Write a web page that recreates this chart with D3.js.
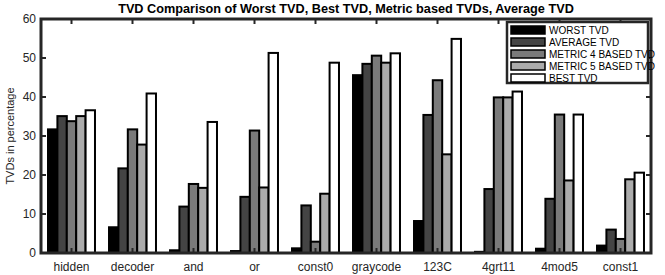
<!DOCTYPE html>
<html>
<head>
<meta charset="utf-8">
<script src="https://cdn.jsdelivr.net/npm/d3@7"></script>
<style>
  body { margin: 0; background: #fff; }
  svg { font-family: "Liberation Sans", Arial, sans-serif; display: block; }
</style>
</head>
<body>
<svg></svg>
<script>
// circuits on the x axis
const circuits = ["hidden", "decoder", "and", "or", "const0", "graycode", "123C", "4grt11", "4mod5", "const1"];

// series (TVD in %)
const seriesNames = ["WORST TVD", "AVERAGE TVD", "METRIC 4 BASED TVD", "METRIC 5 BASED TVD", "BEST TVD"];
const worstTVD   = [31.7, 6.6, 0.7, 0.5, 1.2, 45.6, 8.2, 0.3, 1.1, 1.9];
const averageTVD = [35.1, 21.7, 11.9, 14.4, 12.2, 48.5, 35.4, 16.4, 13.9, 6.0];
const metric4TVD = [33.8, 31.7, 17.7, 31.4, 2.9, 50.6, 44.3, 39.9, 35.5, 3.6];
const metric5TVD = [35.1, 27.8, 16.7, 16.8, 15.2, 48.8, 25.3, 39.9, 18.6, 18.9];
const bestTVD    = [36.6, 40.9, 33.6, 51.3, 48.8, 51.2, 54.9, 41.4, 35.5, 20.6];
const yTicks = [0, 10, 20, 30, 40, 50, 60];

const series = [worstTVD, averageTVD, metric4TVD, metric5TVD, bestTVD];
const colors = ["#000000", "#444444", "#7a7a7a", "#ababab", "#ffffff"];

const W = 665, H = 275;
const plotL = 41, plotR = 651, plotT = 19, plotB = 253;

const svg = d3.select('svg')
    .attr('width', W)
    .attr('height', H);

// x: MATLAB-like group index scale
const x = d3.scaleLinear()
    .domain([0.5, circuits.length + 0.5])
    .range([plotL, plotR]);
const y = d3.scaleLinear()
    .domain([0, 60])
    .range([plotB, plotT]);

const groupWidth = 0.77;
const barW = groupWidth / series.length;

// bars
series.forEach((vals, s) => {
    svg.append('g')
        .selectAll('rect')
        .data(vals)
        .enter()
        .append('rect')
        .attr('x', (d, i) => x(i + 1 - groupWidth / 2 + s * barW))
        .attr('y', d => y(d))
        .attr('width', x(barW) - x(0))
        .attr('height', d => y(0) - y(d))
        .attr('fill', colors[s])
        .attr('stroke', '#000')
        .attr('stroke-width', 2);
});

const axisColor = '#262626';

// ticks, inward on all four sides
const tickLen = 5;
const idx = circuits.map((c, i) => i + 1);
const ticks = svg.append('g').attr('stroke', axisColor).attr('stroke-width', 2);
idx.forEach(i => {
    ticks.append('line').attr('x1', x(i)).attr('x2', x(i)).attr('y1', plotB).attr('y2', plotB - tickLen);
    ticks.append('line').attr('x1', x(i)).attr('x2', x(i)).attr('y1', plotT).attr('y2', plotT + tickLen);
});
yTicks.forEach(t => {
    ticks.append('line').attr('x1', plotL).attr('x2', plotL + tickLen).attr('y1', y(t)).attr('y2', y(t));
    ticks.append('line').attr('x1', plotR).attr('x2', plotR - tickLen).attr('y1', y(t)).attr('y2', y(t));
});

// box
svg.append('rect')
    .attr('x', plotL).attr('y', plotT)
    .attr('width', plotR - plotL).attr('height', plotB - plotT)
    .attr('fill', 'none')
    .attr('stroke', axisColor)
    .attr('stroke-width', 3);

// tick labels
svg.append('g').selectAll('text')
    .data(yTicks)
    .enter()
    .append('text')
    .attr('x', plotL - 5)
    .attr('y', d => y(d) + 4)
    .attr('text-anchor', 'end')
    .attr('font-size', 12)
    .attr('fill', axisColor)
    .text(d => d);

svg.append('g').selectAll('text')
    .data(circuits)
    .enter()
    .append('text')
    .attr('x', (d, i) => x(i + 1))
    .attr('y', 271)
    .attr('text-anchor', 'middle')
    .attr('font-size', 12)
    .attr('fill', axisColor)
    .text(d => d);

// title and y label
svg.append('text')
    .attr('x', (plotL + plotR) / 2)
    .attr('y', 13)
    .attr('text-anchor', 'middle')
    .attr('font-size', 12.7)
    .attr('font-weight', 'bold')
    .attr('fill', '#000')
    .text('TVD Comparison of Worst TVD, Best TVD, Metric based TVDs, Average TVD');

svg.append('text')
    .attr('transform', `translate(14, ${(plotT + plotB) / 2}) rotate(-90)`)
    .attr('text-anchor', 'middle')
    .attr('font-size', 11)
    .attr('fill', axisColor)
    .text('TVDs in percentage');

// legend
const lg = svg.append('g');
lg.append('rect')
    .attr('x', 507).attr('y', 22)
    .attr('width', 141).attr('height', 61)
    .attr('fill', '#fff')
    .attr('stroke', axisColor)
    .attr('stroke-width', 2.5);
seriesNames.forEach((name, s) => {
    const cy = 30 + s * 12;
    lg.append('rect')
        .attr('x', 511).attr('y', cy - 4)
        .attr('width', 34).attr('height', 8)
        .attr('fill', colors[s])
        .attr('stroke', '#000')
        .attr('stroke-width', 1.5);
    lg.append('text')
        .attr('x', 549).attr('y', cy + 3.5)
        .attr('font-size', 10)
        .attr('fill', '#000')
        .text(name);
});
</script>
</body>
</html>
